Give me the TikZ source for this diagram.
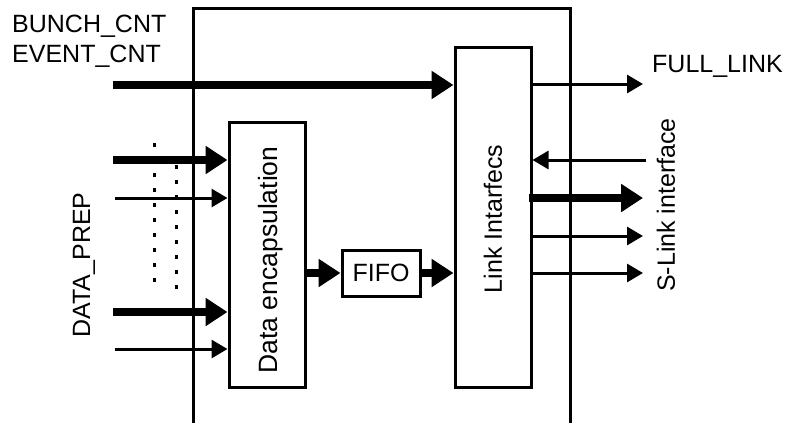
\documentclass[tikz,border=0pt]{standalone}
\usepackage{fontspec}
\setmainfont{Liberation Sans}
\usetikzlibrary{arrows.meta}
\tikzset{
  box/.style={draw, line width=3pt, inner sep=0pt, fill=white},
  txt/.style={font=\fontsize{25}{30}\selectfont, inner sep=0pt},
  rtxt/.style={txt, rotate=90},
  fatarrow/.style={line width=8pt, -{Triangle[length=22pt,width=27pt]}},
  thinarrow/.style={line width=3pt, -{Triangle[length=16pt,width=18pt]}},
  frame/.style={line width=3pt},
  dots/.style={line width=3pt, dash pattern=on 4pt off 11pt}
}
\begin{document}
\begin{tikzpicture}[x=1pt,y=-1pt]
\useasboundingbox (0,0) rectangle (791,423);
% outer frame (open at the bottom)
\coordinate (fbl) at (193,423);
\coordinate (ftl) at (193,8);
\coordinate (ftr) at (570,8);
\coordinate (fbr) at (570,423);
\draw[frame] (fbl) -- (ftl) -- (ftr) -- (fbr);
% boxes
\node[box, minimum width=76pt, minimum height=340pt] (li) at (493,217) {};
\node[box, minimum width=76pt, minimum height=265pt] (de) at (267,254.5) {};
\node[box, minimum width=78pt, minimum height=46pt] (fifo) at (381,273) {};
\node[txt] (fifot) at (fifo.center) {FIFO};
\node[rtxt] (lit) at (493,219) {Link Intarfecs};
\node[rtxt, font=\fontsize{26.5}{30}\selectfont] (det) at (271,260) {Data encapsulation};
% labels
\node[txt, anchor=base west] (bunch) at (12,32) {BUNCH\_CNT};
\node[txt, anchor=base west] (event) at (12,62) {EVENT\_CNT};
\node[txt, anchor=base west] (full) at (652,72) {FULL\_LINK};
\node[rtxt] (dp) at (84,265) {DATA\_PREP};
\node[rtxt] (sl) at (666,205) {S-Link interface};
% dotted lines
\coordinate (d1a) at (154,143);
\coordinate (d1b) at (154,292);
\coordinate (d2a) at (176,165);
\coordinate (d2b) at (176,298);
\draw[dots] (d1a) -- (d1b);
\draw[dots] (d2a) -- (d2b);
% left inputs
\coordinate (bin) at (113,85);
\coordinate (i1) at (113,160);
\coordinate (i2) at (115,198);
\coordinate (i3) at (113,312);
\coordinate (i4) at (115,349);
\draw[fatarrow] (bin) -- (bin -| li.west);
\draw[fatarrow] (i1) -- (i1 -| de.west);
\draw[thinarrow] (i2) -- (i2 -| de.west);
\draw[fatarrow] (i3) -- (i3 -| de.west);
\draw[thinarrow] (i4) -- (i4 -| de.west);
% FIFO path
\draw[fatarrow] (de.east |- fifo.west) -- (fifo.west);
\draw[fatarrow] (fifo.east) -- (li.west |- fifo.east);
% right side
\coordinate (o1) at (643,84);
\coordinate (r1) at (646,160);
\coordinate (o2) at (643,198);
\coordinate (o3) at (643,236);
\coordinate (o4) at (643,273);
\draw[thinarrow] (o1 -| li.east) -- (o1);
\draw[thinarrow] (r1) -- (r1 -| li.east);
\draw[fatarrow] ([xshift=-4pt]o2 -| li.east) -- (o2);
\draw[thinarrow] (o3 -| li.east) -- (o3);
\draw[thinarrow] (o4 -| li.east) -- (o4);
\end{tikzpicture}
\end{document}
